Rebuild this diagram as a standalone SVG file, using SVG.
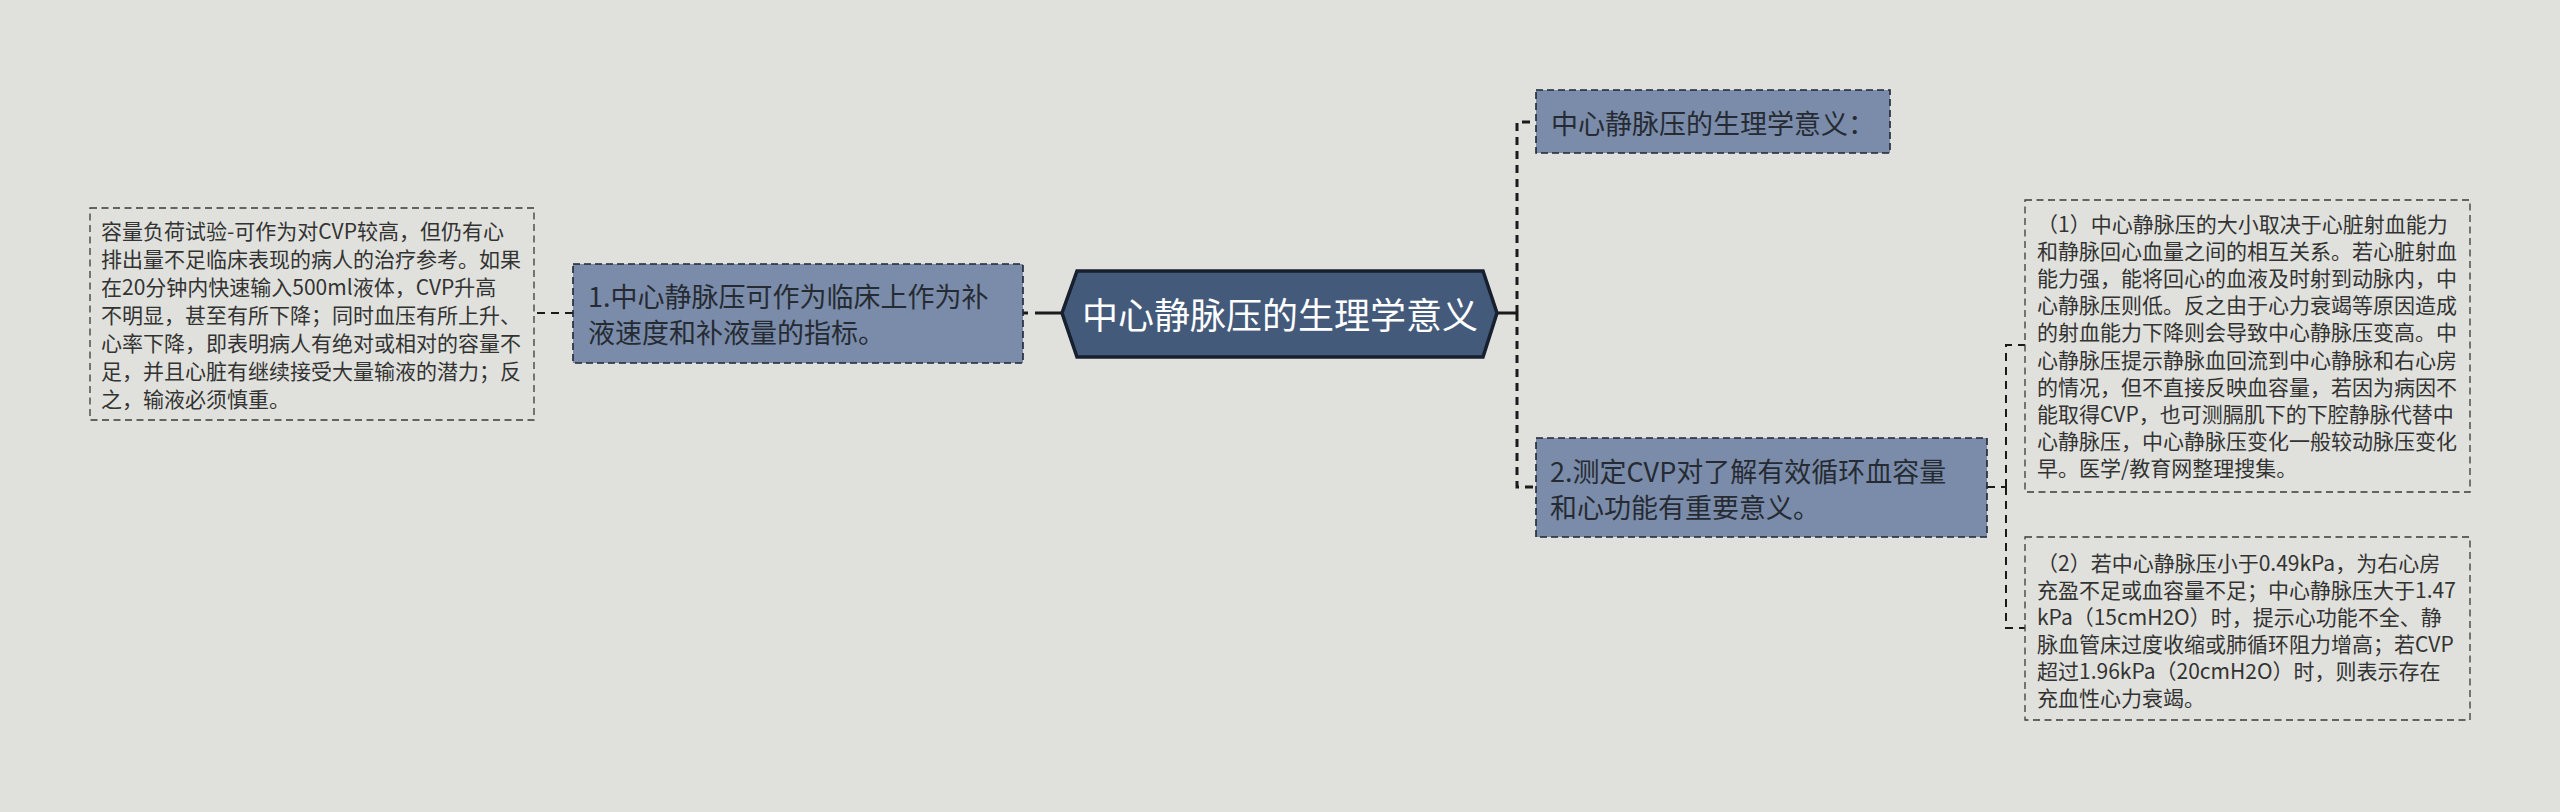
<svg xmlns="http://www.w3.org/2000/svg" width="2560" height="812" viewBox="0 0 2560 812">
<style>
.bg{fill:#e0e1dc}
.box{fill:#7a8ca9;stroke:#1e2633;stroke-width:1.6;stroke-dasharray:7 4}
.plain{fill:none;stroke:#3a3a3a;stroke-width:1.3;stroke-dasharray:7 4.5}
.hex{fill:#445a7a;stroke:#17202e;stroke-width:3.5;stroke-linejoin:miter}
.t{font-family:"Noto Sans CJK SC","Noto Sans",sans-serif;dominant-baseline:central}
.tb{font-size:27px;fill:#262b33}
.ts{font-size:21px;fill:#333333}
.tc{font-size:36px;fill:#ffffff;text-anchor:middle}
.c{fill:none;stroke:#1a1a1a}
.cd{stroke-width:3;stroke-dasharray:8 6}
.cs{stroke-width:2;stroke-dasharray:8 6}
</style>
<rect class="bg" x="0" y="0" width="2560" height="812"/>
<g id="connectors">
<path class="c cs" d="M573 313 H534"/>
<path class="c" stroke-width="3" stroke-dasharray="27 7" d="M1062 313 H1023"/>
<path class="c" stroke-width="3" d="M1497 313 H1517"/>
<path class="c cd" d="M1517 313 V122 H1536"/>
<path class="c cd" d="M1517 313 V487 H1536"/>
<path class="c cs" d="M1987 487 H2006"/>
<path class="c cs" d="M2006 487 V345 H2025"/>
<path class="c cs" d="M2006 487 V628 H2025"/>
</g>
<g id="center">
<polygon class="hex" points="1062,313 1077,271 1483,271 1497,313 1483,357 1077,357"/>
<text class="t tc" x="1280" y="313">中心静脉压的生理学意义</text>
</g>
<g id="node-left1">
<rect class="box" x="573" y="264" width="450" height="99"/>
<text class="t tb" x="588" y="295">1.中心静脉压可作为临床上作为补</text>
<text class="t tb" x="588" y="331">液速度和补液量的指标。</text>
</g>
<g id="node-left2">
<rect class="plain" x="90" y="208" width="444" height="212"/>
<text class="t ts" x="101" y="230">容量负荷试验-可作为对CVP较高，但仍有心</text>
<text class="t ts" x="101" y="258">排出量不足临床表现的病人的治疗参考。如果</text>
<text class="t ts" x="101" y="286">在20分钟内快速输入500ml液体，CVP升高</text>
<text class="t ts" x="101" y="314">不明显，甚至有所下降；同时血压有所上升、</text>
<text class="t ts" x="101" y="342">心率下降，即表明病人有绝对或相对的容量不</text>
<text class="t ts" x="101" y="370">足，并且心脏有继续接受大量输液的潜力；反</text>
<text class="t ts" x="101" y="398">之，输液必须慎重。</text>
</g>
<g id="node-right1">
<rect class="box" x="1536" y="90" width="354" height="63"/>
<text class="t tb" x="1551" y="122">中心静脉压的生理学意义：</text>
</g>
<g id="node-right2">
<rect class="box" x="1536" y="438" width="451" height="99"/>
<text class="t tb" x="1550" y="470">2.测定CVP对了解有效循环血容量</text>
<text class="t tb" x="1550" y="506">和心功能有重要意义。</text>
</g>
<g id="node-right2a">
<rect class="plain" x="2025" y="200" width="445" height="292"/>
<text class="t ts" x="2037" y="223">（1）中心静脉压的大小取决于心脏射血能力</text>
<text class="t ts" x="2037" y="250">和静脉回心血量之间的相互关系。若心脏射血</text>
<text class="t ts" x="2037" y="277">能力强，能将回心的血液及时射到动脉内，中</text>
<text class="t ts" x="2037" y="304">心静脉压则低。反之由于心力衰竭等原因造成</text>
<text class="t ts" x="2037" y="331">的射血能力下降则会导致中心静脉压变高。中</text>
<text class="t ts" x="2037" y="359">心静脉压提示静脉血回流到中心静脉和右心房</text>
<text class="t ts" x="2037" y="386">的情况，但不直接反映血容量，若因为病因不</text>
<text class="t ts" x="2037" y="413">能取得CVP，也可测膈肌下的下腔静脉代替中</text>
<text class="t ts" x="2037" y="440">心静脉压，中心静脉压变化一般较动脉压变化</text>
<text class="t ts" x="2037" y="467">早。医学/教育网整理搜集。</text>
</g>
<g id="node-right2b">
<rect class="plain" x="2025" y="537" width="445" height="183"/>
<text class="t ts" x="2037" y="562">（2）若中心静脉压小于0.49kPa，为右心房</text>
<text class="t ts" x="2037" y="589">充盈不足或血容量不足；中心静脉压大于1.47</text>
<text class="t ts" x="2037" y="616">kPa（15cmH2O）时，提示心功能不全、静</text>
<text class="t ts" x="2037" y="643">脉血管床过度收缩或肺循环阻力增高；若CVP</text>
<text class="t ts" x="2037" y="670">超过1.96kPa（20cmH2O）时，则表示存在</text>
<text class="t ts" x="2037" y="697">充血性心力衰竭。</text>
</g>
</svg>
